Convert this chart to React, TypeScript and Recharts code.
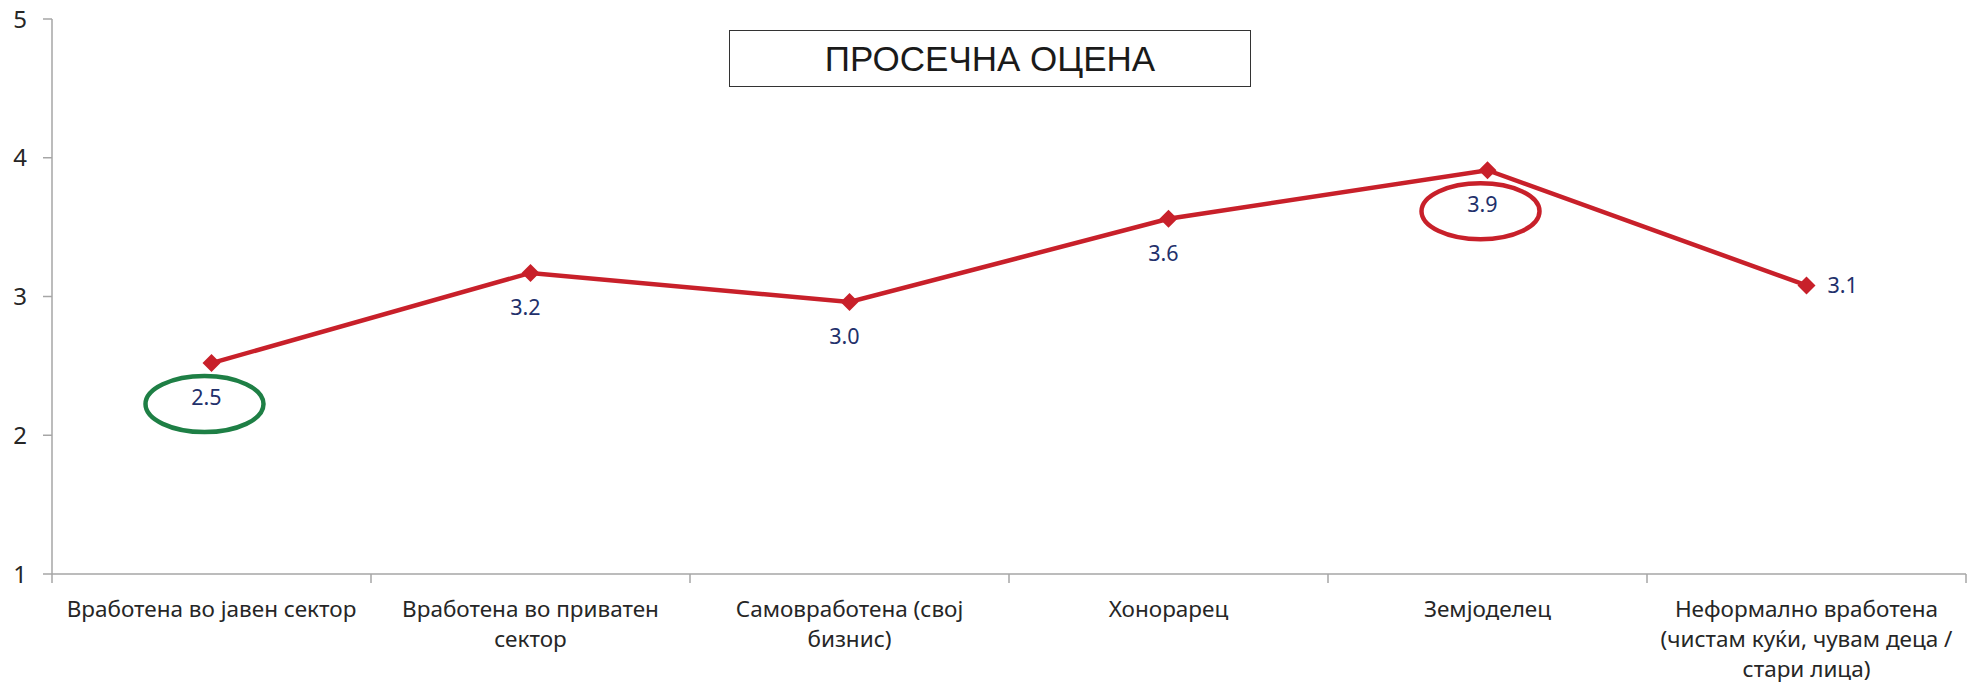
import { LineChart, Line, XAxis, YAxis, LabelList } from 'recharts';

const categoryLines: string[][] = [
  ['Вработена во јавен сектор'],
  ['Вработена во приватен', 'сектор'],
  ['Самовработена (свој', 'бизнис)'],
  ['Хонорарец'],
  ['Земјоделец'],
  ['Неформално вработена', '(чистам куќи, чувам деца /', 'стари лица)'],
];

const averageScores = [2.52, 3.17, 2.96, 3.56, 3.91, 3.08];

const yTicks = [1, 2, 3, 4, 5];
const xTicks = [0, 0.5, 1, 1.5, 2, 2.5, 3, 3.5, 4, 4.5, 5, 5.5, 6];

// circled points: index -> ring colour
const circled: Record<number, string> = { 0: '#1E7F45', 4: '#C8202A' };

const data = averageScores.map((score, i) => ({ x: i + 0.5, score }));

const AXIS = '#A6A6A6';
const RED = '#C8202A';
const NAVY = '#22306B';
const FONT = '"Noto Sans", sans-serif';

const XTick = (props: any) => {
  const { x, y, payload } = props;
  const v = payload.value as number;
  if (Number.isInteger(v)) {
    return <line x1={x} x2={x} y1={y} y2={y + 9} stroke={AXIS} strokeWidth={1.5} />;
  }
  const lines = categoryLines[Math.floor(v)];
  return (
    <text x={x} y={y + 43} textAnchor="middle" fontSize={22.5} fill="#262626" fontFamily={FONT}>
      {lines.map((l, i) => (
        <tspan key={i} x={x} dy={i === 0 ? 0 : 30}>{l}</tspan>
      ))}
    </text>
  );
};

const Marker = (props: any) => {
  const { cx, cy, index } = props;
  const ring = circled[index];
  return (
    <g key={`dot-${index}`}>
      <path d={`M${cx},${cy - 9} L${cx + 9},${cy} L${cx},${cy + 9} L${cx - 9},${cy} Z`} fill={RED} />
      {ring && (
        <ellipse cx={cx - 7} cy={cy + 41} rx={59} ry={28} fill="none" stroke={ring} strokeWidth={4.5} />
      )}
    </g>
  );
};

const ValueLabel = (props: any) => {
  const { x, y, value, index } = props;
  const text = Number(value).toFixed(1);
  if (index === averageScores.length - 1) {
    return (
      <text x={x + 21} y={y + 8} textAnchor="start" fontSize={21.5} fill={NAVY} fontFamily={FONT}>{text}</text>
    );
  }
  return (
    <text x={x - 5} y={y + 42} textAnchor="middle" fontSize={21.5} fill={NAVY} fontFamily={FONT}>{text}</text>
  );
};

export default function App() {
  return (
    <div style={{ position: 'relative', width: 1975, height: 687, background: '#fff' }}>
      <style>{'body{margin:0}'}</style>
      <LineChart width={1975} height={687} data={data} margin={{ top: 19, right: 9, left: 0, bottom: 0 }}>
        <XAxis
          dataKey="x"
          type="number"
          domain={[0, 6]}
          ticks={xTicks}
          interval={0}
          height={113}
          tickSize={0}
          tickMargin={0}
          tickLine={false}
          tick={<XTick />}
          axisLine={{ stroke: AXIS, strokeWidth: 1.5 }}
        />
        <YAxis
          type="number"
          domain={[1, 5]}
          ticks={yTicks}
          width={52}
          tickSize={9}
          tickMargin={16}
          tick={{ fontSize: 24, fill: '#262626', fontFamily: FONT }}
          tickLine={{ stroke: AXIS, strokeWidth: 1.5 }}
          axisLine={{ stroke: AXIS, strokeWidth: 1.5 }}
        />
        <Line
          type="linear"
          dataKey="score"
          stroke={RED}
          strokeWidth={4.5}
          dot={(p: any) => <Marker {...p} />}
          activeDot={false}
          isAnimationActive={false}
        >
          <LabelList dataKey="score" content={<ValueLabel />} />
        </Line>
      </LineChart>
      <div
        style={{
          position: 'absolute',
          left: 729,
          top: 30,
          width: 520,
          height: 55,
          border: '1.5px solid #333',
          display: 'flex',
          alignItems: 'center',
          justifyContent: 'center',
          fontFamily: '"Liberation Sans", Arial, sans-serif',
          fontSize: 35,
          color: '#1a1a1a',
        }}
      >
        ПРОСЕЧНА ОЦЕНА
      </div>
    </div>
  );
}
